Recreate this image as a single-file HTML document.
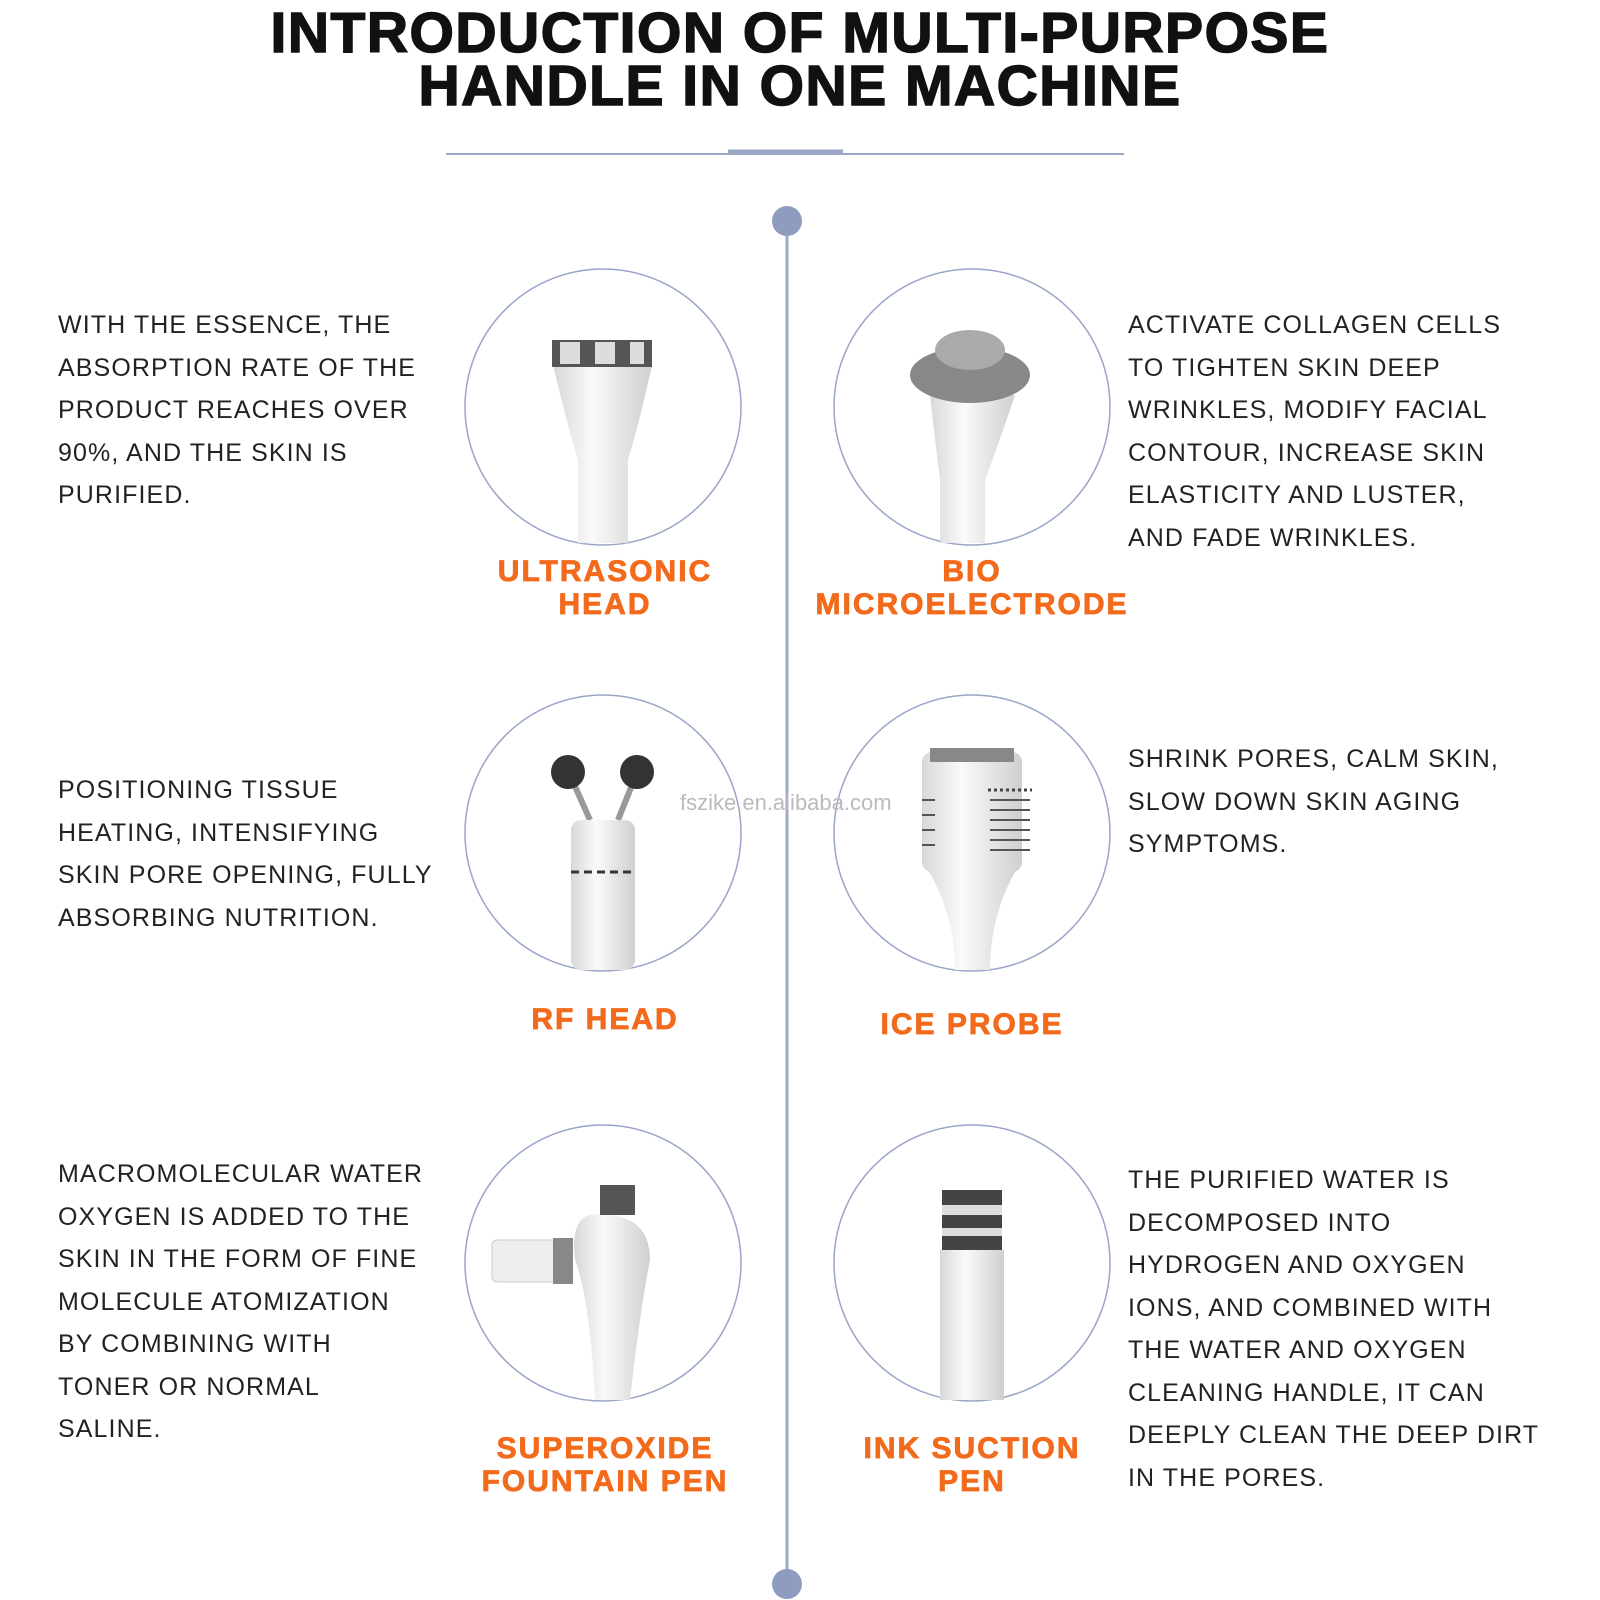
<!DOCTYPE html>
<html><head><style>
body{margin:0;width:1600px;height:1600px;background:#fff;position:relative;overflow:hidden;font-family:"Liberation Sans",sans-serif}
.t{position:absolute;left:0;width:1600px;text-align:center;font-weight:900;font-size:57px;color:#111;letter-spacing:1.5px;-webkit-text-stroke:1.5px #111}
.p{position:absolute;font-size:25px;line-height:42.5px;color:#222;letter-spacing:1.1px}
.l{position:absolute;width:400px;text-align:center;font-weight:bold;font-size:30px;line-height:33px;color:#f26a1b;letter-spacing:2px;-webkit-text-stroke:0.8px #f26a1b}
</style></head><body>
<div class="t" style="top:0px">INTRODUCTION OF MULTI-PURPOSE</div>
<div class="t" style="top:53px">HANDLE IN ONE MACHINE</div>
<svg width="1600" height="1600" style="position:absolute;left:0;top:0">
<line x1="446" y1="154" x2="1124" y2="154" stroke="#9aa6c6" stroke-width="2"/>
<line x1="728" y1="152" x2="843" y2="152" stroke="#9aa6c6" stroke-width="5"/>
<line x1="787" y1="221" x2="787" y2="1582" stroke="#a0aac8" stroke-width="3"/>
<circle cx="787" cy="221" r="15" fill="#8f9cc0"/>
<circle cx="787" cy="1584" r="15" fill="#8f9cc0"/>
<g fill="none" stroke="#9aa6c8" stroke-width="1.5">
<circle cx="603" cy="407" r="138"/><circle cx="972" cy="407" r="138"/>
<circle cx="603" cy="833" r="138"/><circle cx="972" cy="833" r="138"/>
<circle cx="603" cy="1263" r="138"/><circle cx="972" cy="1263" r="138"/>
</g>
<defs><linearGradient id="w" x1="0" x2="1"><stop offset="0" stop-color="#d8d8d8"/><stop offset=".4" stop-color="#fafafa"/><stop offset="1" stop-color="#cfcfcf"/></linearGradient></defs>
<path d="M553 365 H652 Q640 420 628 460 V543 H578 V460 Q566 420 553 365Z" fill="url(#w)"/>
<rect x="552" y="340" width="100" height="27" fill="#555"/><rect x="560" y="342" width="20" height="22" fill="#ddd"/><rect x="595" y="342" width="20" height="22" fill="#ddd"/><rect x="630" y="342" width="14" height="22" fill="#ddd"/>
<path d="M930 395 H1015 Q1000 440 985 480 V543 H940 V480 Q935 440 930 395Z" fill="url(#w)"/>
<ellipse cx="970" cy="375" rx="60" ry="28" fill="#888"/><ellipse cx="970" cy="350" rx="35" ry="20" fill="#aaa"/>
<line x1="570" y1="775" x2="590" y2="820" stroke="#999" stroke-width="6"/><line x1="636" y1="775" x2="618" y2="820" stroke="#999" stroke-width="6"/>
<circle cx="568" cy="772" r="17" fill="#333"/><circle cx="637" cy="772" r="17" fill="#333"/>
<rect x="571" y="820" width="64" height="150" rx="10" fill="url(#w)"/><line x1="571" y1="872" x2="635" y2="872" stroke="#333" stroke-width="3" stroke-dasharray="8 5"/>
<rect x="922" y="752" width="100" height="120" rx="10" fill="url(#w)"/><rect x="930" y="748" width="84" height="14" fill="#888"/>
<path d="M922 860 H1022 Q990 910 990 970 H955 Q955 910 922 860Z" fill="url(#w)"/>
<g stroke="#444" stroke-width="3"><line x1="988" y1="790" x2="1032" y2="790" stroke-dasharray="3 3"/></g>
<g stroke="#555" stroke-width="2"><line x1="990" y1="800" x2="1030" y2="800"/><line x1="990" y1="810" x2="1030" y2="810"/><line x1="990" y1="820" x2="1030" y2="820"/><line x1="990" y1="830" x2="1030" y2="830"/><line x1="990" y1="840" x2="1030" y2="840"/><line x1="990" y1="850" x2="1030" y2="850"/><line x1="922" y1="800" x2="935" y2="800"/><line x1="922" y1="815" x2="935" y2="815"/><line x1="922" y1="830" x2="935" y2="830"/><line x1="922" y1="845" x2="935" y2="845"/></g>
<rect x="492" y="1240" width="65" height="42" rx="5" fill="#eee" stroke="#ccc"/><rect x="553" y="1238" width="20" height="46" fill="#888"/>
<path d="M590 1215 Q650 1210 650 1260 Q640 1310 630 1400 H595 Q590 1300 575 1260 Q570 1220 590 1215Z" fill="url(#w)"/>
<rect x="600" y="1185" width="35" height="30" fill="#555"/>
<rect x="942" y="1190" width="60" height="60" fill="#444"/><rect x="942" y="1205" width="60" height="10" fill="#ddd"/><rect x="942" y="1228" width="60" height="8" fill="#ddd"/>
<rect x="940" y="1250" width="64" height="150" fill="url(#w)"/>
</svg>
<div style="position:absolute;left:680px;top:790px;font-size:22px;color:#bbb">fszike.en.alibaba.com</div>
<div class="p" style="left:58px;top:304px">WITH THE ESSENCE, THE<br>ABSORPTION RATE OF THE<br>PRODUCT REACHES OVER<br>90%, AND THE SKIN IS<br>PURIFIED.</div>
<div class="p" style="left:1128px;top:304px">ACTIVATE COLLAGEN CELLS<br>TO TIGHTEN SKIN DEEP<br>WRINKLES, MODIFY FACIAL<br>CONTOUR, INCREASE SKIN<br>ELASTICITY AND LUSTER,<br>AND FADE WRINKLES.</div>
<div class="p" style="left:58px;top:769px">POSITIONING TISSUE<br>HEATING, INTENSIFYING<br>SKIN PORE OPENING, FULLY<br>ABSORBING NUTRITION.</div>
<div class="p" style="left:1128px;top:738px">SHRINK PORES, CALM SKIN,<br>SLOW DOWN SKIN AGING<br>SYMPTOMS.</div>
<div class="p" style="left:58px;top:1153px">MACROMOLECULAR WATER<br>OXYGEN IS ADDED TO THE<br>SKIN IN THE FORM OF FINE<br>MOLECULE ATOMIZATION<br>BY COMBINING WITH<br>TONER OR NORMAL<br>SALINE.</div>
<div class="p" style="left:1128px;top:1159px">THE PURIFIED WATER IS<br>DECOMPOSED INTO<br>HYDROGEN AND OXYGEN<br>IONS, AND COMBINED WITH<br>THE WATER AND OXYGEN<br>CLEANING HANDLE, IT CAN<br>DEEPLY CLEAN THE DEEP DIRT<br>IN THE PORES.</div>
<div class="l" style="left:405px;top:555px">ULTRASONIC<br>HEAD</div>
<div class="l" style="left:772px;top:555px">BIO<br>MICROELECTRODE</div>
<div class="l" style="left:405px;top:1003px">RF HEAD</div>
<div class="l" style="left:772px;top:1008px">ICE PROBE</div>
<div class="l" style="left:405px;top:1432px">SUPEROXIDE<br>FOUNTAIN PEN</div>
<div class="l" style="left:772px;top:1432px">INK SUCTION<br>PEN</div>
</body></html>
